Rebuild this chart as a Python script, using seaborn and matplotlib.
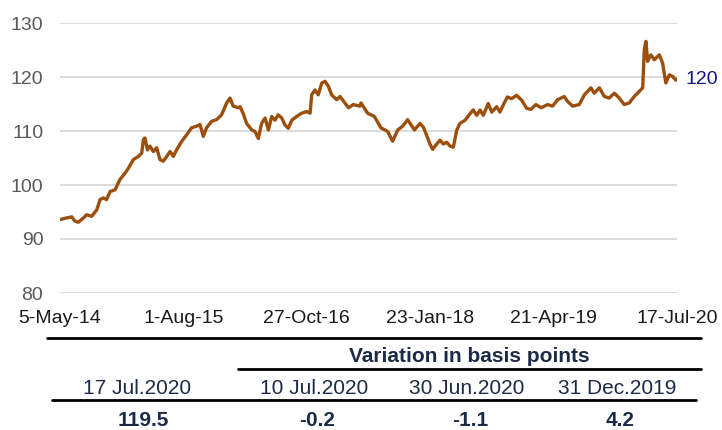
import pandas as pd
import matplotlib
matplotlib.use("Agg")
import matplotlib.pyplot as plt
import seaborn as sns

# index level
dates = [
    "2014-05-05", "2014-05-29", "2014-06-17", "2014-06-29", "2014-07-11", "2014-07-30",
    "2014-08-11", "2014-08-29", "2014-09-17", "2014-09-29", "2014-10-11", "2014-10-23",
    "2014-11-05", "2014-11-23", "2014-12-11", "2014-12-30", "2015-01-11", "2015-01-29",
    "2015-02-17", "2015-03-01", "2015-03-07", "2015-03-13", "2015-03-22", "2015-03-31",
    "2015-04-13", "2015-04-25", "2015-05-07", "2015-05-19", "2015-06-01", "2015-06-13",
    "2015-06-25", "2015-07-07", "2015-07-26", "2015-08-13", "2015-08-31", "2015-09-19",
    "2015-10-01", "2015-10-13", "2015-10-25", "2015-11-13", "2015-12-01", "2015-12-19",
    "2016-01-07", "2016-01-19", "2016-01-31", "2016-02-19", "2016-02-25", "2016-03-07",
    "2016-03-20", "2016-04-08", "2016-04-20", "2016-05-02", "2016-05-14", "2016-05-27",
    "2016-06-08", "2016-06-20", "2016-07-02", "2016-07-14", "2016-07-27", "2016-08-08",
    "2016-08-20", "2016-09-02", "2016-09-20", "2016-10-08", "2016-10-27", "2016-11-08",
    "2016-11-14", "2016-11-26", "2016-12-08", "2016-12-21", "2017-01-02", "2017-01-14",
    "2017-01-26", "2017-02-14", "2017-02-26", "2017-03-10", "2017-03-29", "2017-04-16",
    "2017-05-10", "2017-05-14", "2017-06-07", "2017-07-02", "2017-07-26", "2017-08-20",
    "2017-09-07", "2017-09-26", "2017-10-14", "2017-11-01", "2017-11-26", "2017-12-17",
    "2017-12-29", "2018-01-10", "2018-01-22", "2018-02-01", "2018-02-16", "2018-02-28",
    "2018-03-12", "2018-03-25", "2018-04-06", "2018-04-18", "2018-04-30", "2018-05-12",
    "2018-05-31", "2018-06-18", "2018-06-30", "2018-07-13", "2018-07-25", "2018-08-06",
    "2018-08-24", "2018-09-06", "2018-09-24", "2018-10-06", "2018-10-18", "2018-11-02",
    "2018-11-18", "2018-12-06", "2018-12-25", "2019-01-12", "2019-01-28", "2019-02-15",
    "2019-03-06", "2019-03-30", "2019-04-17", "2019-05-06", "2019-05-30", "2019-06-11",
    "2019-06-30", "2019-07-24", "2019-08-12", "2019-09-05", "2019-09-17", "2019-10-06",
    "2019-10-24", "2019-11-11", "2019-11-30", "2019-12-18", "2020-01-05", "2020-01-24",
    "2020-02-11", "2020-02-29", "2020-03-13", "2020-03-19", "2020-03-25", "2020-03-31",
    "2020-04-12", "2020-04-25", "2020-05-13", "2020-05-25", "2020-06-06", "2020-06-19",
    "2020-07-01", "2020-07-13", "2020-07-17",
]
levels = [
    93.6, 93.9, 94.1, 93.3, 93.1, 93.9,
    94.5, 94.2, 95.4, 97.3, 97.6, 97.3,
    98.8, 99.1, 101.0, 102.2, 103.1, 104.7,
    105.3, 105.9, 108.4, 108.7, 106.5, 107.2,
    106.2, 106.9, 104.7, 104.4, 105.3, 106.2,
    105.3, 106.5, 108.1, 109.3, 110.6, 110.9,
    111.2, 109.0, 110.6, 111.8, 112.1, 113.0,
    115.2, 116.1, 114.6, 114.3, 114.5, 113.3,
    111.4, 110.2, 109.9, 108.6, 111.4, 112.4,
    110.2, 112.7, 112.0, 113.0, 112.4, 111.1,
    110.5, 112.0, 112.7, 113.3, 113.6, 113.3,
    116.7, 117.6, 116.7, 118.9, 119.2, 118.3,
    116.7, 115.8, 116.4, 115.6, 114.3, 114.9,
    114.6, 115.2, 113.3, 112.7, 110.6, 109.9,
    108.1, 110.2, 110.9, 112.1, 110.2, 111.4,
    110.7, 109.2, 107.6, 106.6, 107.6, 108.3,
    107.6, 107.9, 107.2, 107.0, 110.1, 111.4,
    112.0, 113.2, 113.9, 112.9, 113.9, 112.9,
    115.1, 113.5, 114.5, 113.5, 114.8, 116.3,
    116.0, 116.6, 115.7, 114.2, 114.0, 114.9,
    114.3, 114.9, 114.6, 115.8, 116.4, 115.5,
    114.6, 114.9, 116.7, 118.0, 117.0, 118.0,
    116.4, 116.1, 117.0, 116.1, 114.9, 115.2,
    116.4, 117.3, 118.0, 125.1, 126.6, 122.9,
    124.1, 123.2, 124.1, 122.6, 118.9, 120.4,
    120.1, 119.4, 119.5,
]

tick_dates = ["2014-05-05", "2015-08-01", "2016-10-27", "2018-01-23", "2019-04-21", "2020-07-17"]
tick_labels = ["5-May-14", "1-Aug-15", "27-Oct-16", "23-Jan-18", "21-Apr-19", "17-Jul-20"]
y_ticks = [80, 90, 100, 110, 120, 130]
last_label = "120"

# table under the chart
table_title = "Variation in basis points"
col_headers = ["17 Jul.2020", "10 Jul.2020", "30 Jun.2020", "31 Dec.2019"]
col_values = ["119.5", "-0.2", "-1.1", "4.2"]

df = pd.DataFrame({"date": pd.to_datetime(dates), "level": levels})

sns.set_style("white")
plt.rcParams["font.family"] = ["Liberation Sans", "DejaVu Sans"]

W, H = 722, 430
fig = plt.figure(figsize=(W / 100, H / 100), dpi=100)
ax = fig.add_axes([60 / W, 1 - 293 / H, 617 / W, 270 / H])

line_col = "#9C4E0C"
navy = "#1B2A47"

sns.lineplot(data=df, x="date", y="level", ax=ax, color=line_col, linewidth=2.4)

ax.set_xlim(df["date"].iloc[0], df["date"].iloc[-1])
ax.set_ylim(80, 130)
ax.set_yticks(y_ticks)
ax.set_xticks(pd.to_datetime(tick_dates))
ax.set_xticklabels(tick_labels)
ax.set_xlabel("")
ax.set_ylabel("")
ax.tick_params(axis="y", length=0, pad=12, labelsize=14, labelcolor="#595959")
ax.tick_params(axis="x", length=0, pad=12, labelsize=14, labelcolor="#1a1a1a")
ax.yaxis.grid(True, color="#D9D9D9", linewidth=1.3)
ax.xaxis.grid(False)
ax.set_axisbelow(True)
for s in ax.spines.values():
    s.set_visible(False)

# end label
ax.annotate(last_label, xy=(df["date"].iloc[-1], df["level"].iloc[-1]),
            xytext=(6, 0), textcoords="offset points", va="center", ha="left",
            fontsize=14, color="#14177F", annotation_clip=False)

# table
def fx(px):
    return px / W

def fy(py):
    return 1 - py / H

for y, x0, x1 in [(338, 47, 701), (369, 238, 701), (400, 52, 696)]:
    fig.add_artist(plt.Line2D([fx(x0), fx(x1)], [fy(y), fy(y)], color="black",
                              linewidth=2, transform=fig.transFigure))

fig.text(fx(469), fy(357), table_title, ha="center", va="center",
         fontsize=15, fontweight="bold", color=navy)
head_x = [137, 314, 467, 617]
val_x = [143, 317, 470, 620]
for hx, vx, h, v in zip(head_x, val_x, col_headers, col_values):
    fig.text(fx(hx), fy(389), h, ha="center", va="center", fontsize=15, color=navy)
    fig.text(fx(vx), fy(421), v, ha="center", va="center", fontsize=15,
             fontweight="bold", color=navy)

fig.savefig("out.png", dpi=100)
